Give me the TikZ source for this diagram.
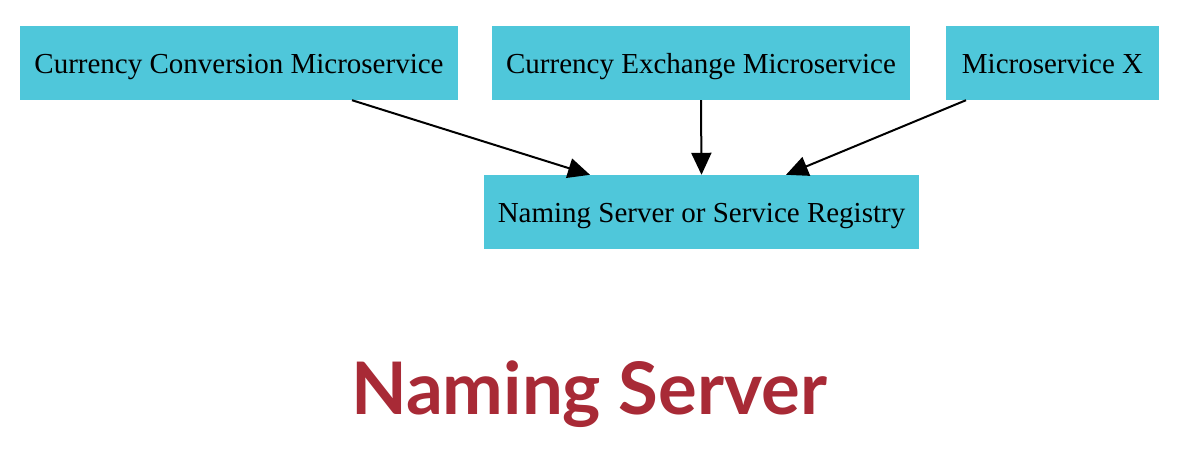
\documentclass[tikz,border=0pt]{standalone}
\usepackage{fontspec}
\setmainfont{Liberation Serif}
\newfontfamily\titlefont{Lato}
\usetikzlibrary{arrows.meta}
\definecolor{boxcyan}{HTML}{4FC7DA}
\definecolor{titlered}{HTML}{A82A36}
\tikzset{
  svc/.style={fill=boxcyan, draw=none, minimum height=74pt, inner sep=0pt,
    text height=24pt, text depth=4pt,
    font=\fontsize{29}{33}\selectfont, text=black},
  arr/.style={line width=2pt, -{Triangle[length=22pt,width=20pt]}}
}
\begin{document}
\begin{tikzpicture}[x=1pt,y=1pt]
\useasboundingbox (0,0) rectangle (1180,-456);
\node[svc, minimum width=438pt] (A) at (239,-63) {Currency Conversion Microservice};
\node[svc, minimum width=418pt] (B) at (701,-63) {Currency Exchange Microservice};
\node[svc, minimum width=213pt] (C) at (1052.5,-63) {Microservice X};
\node[svc, minimum width=435pt] (D) at (701.5,-212) {Naming Server or Service Registry};
\draw[arr] ([xshift=113pt]A.south) -- ([xshift=-111.5pt]D.north);
\draw[arr] (B.south) -- (D.north);
\draw[arr] ([xshift=-86.5pt]C.south) -- ([xshift=84.5pt]D.north);
\node[font=\titlefont\bfseries\fontsize{72.5}{84}\selectfont, text=titlered,
  anchor=base, inner sep=0pt] (T) at (589,-414) {Naming Server};
\end{tikzpicture}
\end{document}
